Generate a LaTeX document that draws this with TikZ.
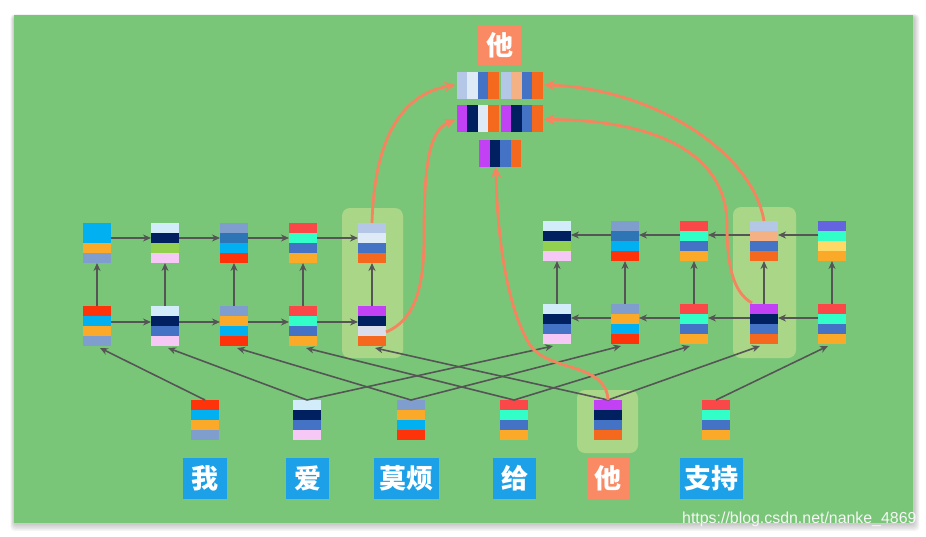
\documentclass[tikz,border=0pt]{standalone}
\usepackage{fontspec}
\newfontfamily\cjk{Noto Sans CJK SC}
\newfontfamily\wm{Liberation Sans}
\usetikzlibrary{arrows.meta,calc}
\definecolor{panel}{RGB}{122,198,121}
\definecolor{hl}{RGB}{170,214,136}
\definecolor{sky}{RGB}{0,176,240}
\definecolor{orng}{RGB}{250,170,40}
\definecolor{gblue}{RGB}{127,157,205}
\definecolor{redA}{RGB}{255,51,10}
\definecolor{redB}{RGB}{250,72,72}
\definecolor{lblue}{RGB}{210,236,250}
\definecolor{navy}{RGB}{0,32,96}
\definecolor{lime}{RGB}{146,208,80}
\definecolor{pink}{RGB}{245,200,245}
\definecolor{steel}{RGB}{46,117,182}
\definecolor{aqua}{RGB}{50,255,200}
\definecolor{mblue}{RGB}{68,114,196}
\definecolor{lsteel}{RGB}{180,199,231}
\definecolor{vlight}{RGB}{222,235,247}
\definecolor{ored}{RGB}{245,105,30}
\definecolor{purp}{RGB}{195,65,245}
\definecolor{lgrey}{RGB}{218,222,235}
\definecolor{salm}{RGB}{244,177,131}
\definecolor{slate}{RGB}{100,100,225}
\definecolor{yell}{RGB}{255,217,102}
\definecolor{labblue}{RGB}{28,160,232}
\definecolor{laborg}{RGB}{250,138,100}
\definecolor{curve}{RGB}{245,132,95}
\definecolor{arr}{RGB}{85,85,85}
\tikzset{
  vcell/.style={minimum width=28pt,minimum height=40pt,inner sep=0pt,outer sep=0pt},
  hcell/.style={minimum width=42pt,minimum height=27pt,inner sep=0pt,outer sep=0pt},
  garrow/.style={draw=arr,line width=1.6pt,-{Stealth[length=8pt,width=7pt]}},
  oarrow/.style={draw=curve,line width=2.8pt,-{Stealth[length=11pt,width=10pt]}},
  hlbox/.style={fill=hl,rounded corners=8pt},
  wlabel/.style={fill=labblue,text=white,font=\cjk\bfseries\fontsize{27}{29}\selectfont,minimum height=41pt,inner sep=0pt},
  olabel/.style={wlabel,fill=laborg}
}
\newcommand\vstack[6]{%
  \node[vcell] (#1) at (#2) {};
  \begin{scope}[shift={(#1.north west)}]
    \fill[#3] (0,0) rectangle (28,10);
    \fill[#4] (0,10) rectangle (28,20);
    \fill[#5] (0,20) rectangle (28,30);
    \fill[#6] (0,30) rectangle (28,40);
  \end{scope}}
\newcommand\hstack[6]{%
  \node[hcell] (#1) at (#2) {};
  \begin{scope}[shift={(#1.north west)}]
    \fill[#3] (0,0) rectangle (10.5,27);
    \fill[#4] (10.5,0) rectangle (21,27);
    \fill[#5] (21,0) rectangle (31.5,27);
    \fill[#6] (31.5,0) rectangle (42,27);
  \end{scope}}
\begin{document}
\begin{tikzpicture}[x=1pt,y=-1pt]
\useasboundingbox (0,0) rectangle (926,536);
\fill[white] (0,0) rectangle (926,536);
% shadow
\foreach \i in {1,...,6}{
  \fill[black,opacity=0.035,rounded corners=4pt] (14-\i*0.6,16-\i*0.3) rectangle (914+\i*0.9,524+\i*1.2);
}
\fill[panel] (14,15) rectangle (913,523);
% highlights
\fill[hlbox] (342,208) rectangle (403,358);
\fill[hlbox] (733,207) rectangle (796,358);
\fill[hlbox] (577,390) rectangle (638,453);
% left bi-RNN (forward)
\vstack{L1t}{97,243}{sky}{sky}{orng}{gblue}
\vstack{L2t}{165,243}{lblue}{navy}{lime}{pink}
\vstack{L3t}{234,243}{gblue}{steel}{sky}{redA}
\vstack{L4t}{303,243}{redB}{aqua}{mblue}{orng}
\vstack{L5t}{372,243}{lsteel}{vlight}{mblue}{ored}
\vstack{L1b}{97,326}{redA}{sky}{orng}{gblue}
\vstack{L2b}{165,326}{lblue}{navy}{mblue}{pink}
\vstack{L3b}{234,326}{gblue}{orng}{sky}{redA}
\vstack{L4b}{303,326}{redB}{aqua}{mblue}{orng}
\vstack{L5b}{372,326}{purp}{navy}{lgrey}{ored}
% right (backward)
\vstack{R1t}{557,241}{lblue}{navy}{lime}{pink}
\vstack{R2t}{625,241}{gblue}{steel}{sky}{redA}
\vstack{R3t}{694,241}{redB}{aqua}{mblue}{orng}
\vstack{R4t}{764,241}{lsteel}{salm}{mblue}{ored}
\vstack{R5t}{832,241}{slate}{aqua}{yell}{orng}
\vstack{R1b}{557,324}{lblue}{navy}{mblue}{pink}
\vstack{R2b}{625,324}{gblue}{orng}{sky}{redA}
\vstack{R3b}{694,324}{redB}{aqua}{mblue}{orng}
\vstack{R4b}{764,324}{purp}{navy}{mblue}{ored}
\vstack{R5b}{832,324}{redB}{aqua}{mblue}{orng}
% word vectors
\vstack{W1}{205,420}{redA}{sky}{orng}{gblue}
\vstack{W2}{307,420}{lblue}{navy}{mblue}{pink}
\vstack{W3}{411,420}{gblue}{orng}{sky}{redA}
\vstack{W4}{514,420}{redB}{aqua}{mblue}{orng}
\vstack{W5}{608,420}{purp}{navy}{mblue}{ored}
\vstack{W6}{716,420}{redB}{aqua}{mblue}{orng}
% top output vectors
\hstack{T1a}{477.5,85}{lsteel}{vlight}{mblue}{ored}
\hstack{T1b}{521.5,85}{lsteel}{salm}{mblue}{ored}
\hstack{T2a}{477.5,118.5}{purp}{navy}{vlight}{ored}
\hstack{T2b}{521.5,118.5}{purp}{navy}{mblue}{ored}
\hstack{T3}{500,153}{purp}{navy}{mblue}{ored}
% labels
\node[wlabel,minimum width=44pt] (lab1) at (205,478.5) {我};
\node[wlabel,minimum width=43pt] (lab2) at (307.5,478.5) {爱};
\node[wlabel,minimum width=65pt] (lab3) at (406.5,478.5) {莫烦};
\node[wlabel,minimum width=43pt] (lab4) at (514.5,478.5) {给};
\node[olabel,minimum width=42pt] (lab5) at (608,478.5) {他};
\node[wlabel,minimum width=63pt] (lab6) at (711.5,478.5) {支持};
\node[olabel,minimum width=43pt,minimum height=40pt] (labtop) at (499.5,45) {他};
% grey arrows: words to bottom cells
\draw[garrow] (W1.north) -- ([xshift=3pt,yshift=-2pt]L1b.south);
\draw[garrow] (W2.north) -- ([xshift=3pt,yshift=-2pt]L2b.south);
\draw[garrow] (W3.north) -- ([xshift=3pt,yshift=-2pt]L3b.south);
\draw[garrow] (W4.north) -- ([xshift=3pt,yshift=-2pt]L4b.south);
\draw[garrow] (W5.north) -- ([xshift=3pt,yshift=-2pt]L5b.south);
\draw[garrow] (W2.north) -- ([xshift=-4pt,yshift=-2pt]R1b.south);
\draw[garrow] (W3.north) -- ([xshift=-4pt,yshift=-2pt]R2b.south);
\draw[garrow] (W4.north) -- ([xshift=-4pt,yshift=-2pt]R3b.south);
\draw[garrow] (W5.north) -- ([xshift=-4pt,yshift=-2pt]R4b.south);
\draw[garrow] (W6.north) -- ([xshift=-4pt,yshift=-2pt]R5b.south);
% horizontal recurrences
\foreach \a/\b in {1/2,2/3,3/4,4/5}{
  \draw[garrow] ([yshift=5pt]L\a t.east) -- ([yshift=5pt]L\b t.west);
  \draw[garrow] ([yshift=4pt]L\a b.east) -- ([yshift=4pt]L\b b.west);
  \draw[garrow] ([yshift=6pt]R\b t.west) -- ([yshift=6pt]R\a t.east);
  \draw[garrow] ([yshift=6pt]R\b b.west) -- ([yshift=6pt]R\a b.east);
}
% vertical
\foreach \a in {1,...,5}{
  \draw[garrow] (L\a b.north) -- (L\a t.south);
  \draw[garrow] (R\a b.north) -- (R\a t.south);
}
% orange attention curves
\coordinate (c2) at (424,235);
\coordinate (c3) at (530,345);
\coordinate (c5) at (727,225);
\draw[oarrow] (L5t.north) .. controls (374,150) and (395,95) .. ([xshift=-1pt]T1a.west);
\draw[oarrow] ([yshift=-6pt]L5b.east) .. controls (420,318) and (424,275) .. (c2) .. controls (424,160) and (430,130) .. ([xshift=-1pt,yshift=-1pt]T2a.west);
\draw[oarrow] (W5.north) .. controls (606,362) and (548,372) .. (c3) .. controls (508,310) and (497,240) .. ([xshift=-4pt]T3.south);
\draw[oarrow] (R4t.north) .. controls (752,150) and (650,88) .. ([xshift=1pt]T1b.east);
\draw[oarrow] ([xshift=-12pt,yshift=1pt]R4b.north) .. controls (732,292) and (727,262) .. (c5) .. controls (727,150) and (650,120) .. ([xshift=1pt,yshift=-1pt]T2b.east);
% watermark
\node[anchor=base west,inner sep=0pt,font=\wm\fontsize{15.9}{17}\selectfont,text=white!93!gray] (wm) at (682,523) {https://blog.csdn.net/nanke\_4869};
\end{tikzpicture}
\end{document}
